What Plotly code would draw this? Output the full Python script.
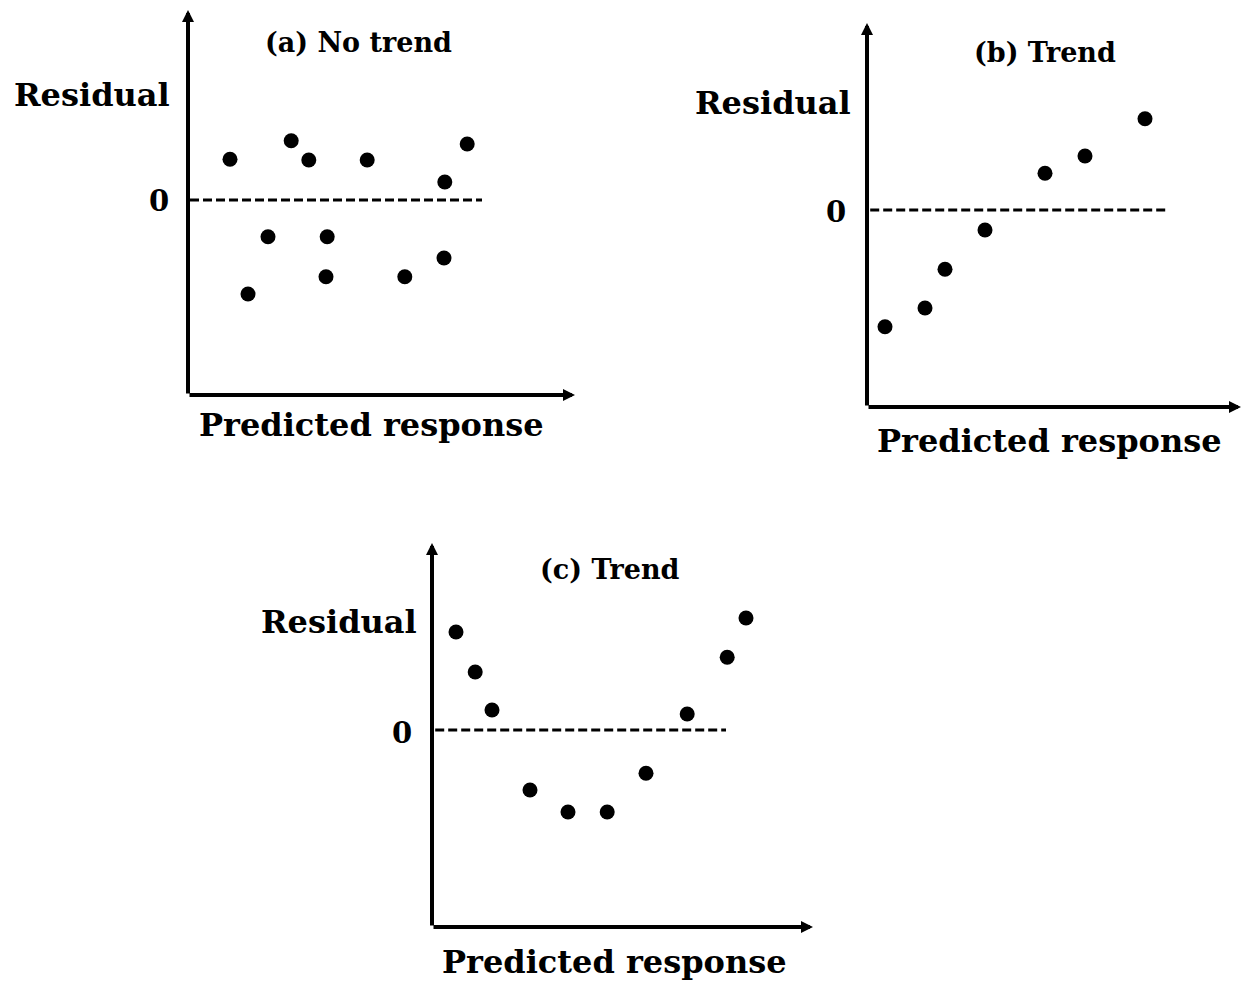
import plotly.graph_objects as go

W, H = 1244, 981

# ---------------- data ----------------
# Panel (a) No trend
a_pred = [1.05, 1.50, 2.00, 2.58, 3.02, 3.48, 3.45, 4.48, 5.42, 6.42, 6.40, 6.98]
a_resid = [1.02, -2.35, -0.92, 1.48, 1.00, -0.92, -1.92, 1.00, -1.92, 0.45, -1.45, 1.40]
# Panel (b) Trend (linear)
b_pred = [0.45, 1.45, 1.95, 2.95, 4.45, 5.45, 6.95]
b_resid = [-2.92, -2.45, -1.48, -0.50, 0.92, 1.35, 2.28]
# Panel (c) Trend (curved)
c_pred = [0.60, 1.08, 1.50, 2.45, 3.40, 4.38, 5.35, 6.38, 7.38, 7.85]
c_resid = [2.45, 1.45, 0.50, -1.50, -2.05, -2.05, -1.08, 0.40, 1.82, 2.80]

titles = ["(a) No trend", "(b) Trend", "(c) Trend"]
y_label = "Residual"
x_label = "Predicted response"
zero_label = "0"
# extent of dashed zero reference line in predicted-response units
zero_line_x = [[0.05, 7.35], [0.08, 7.48], [0.08, 7.35]]

series = [(a_pred, a_resid), (b_pred, b_resid), (c_pred, c_resid)]

# ---------------- layout geometry (pixels) ----------------
PX = 40.0  # pixels per data unit
panels = [
    dict(ox=188, top=10, bottom=395, right=575, zero=200,
         title=(358, 42), ylab=(92, 95), zlab=(159, 201), xlab=(371, 425)),
    dict(ox=867, top=23, bottom=407, right=1241, zero=210,
         title=(1045, 53), ylab=(773, 103), zlab=(836, 212), xlab=(1049, 441)),
    dict(ox=432, top=543, bottom=927, right=813, zero=730,
         title=(610, 569), ylab=(339, 622), zlab=(402, 733), xlab=(614, 962)),
]

FONT = "DejaVu Serif"
fig = go.Figure()
annotations = []
layout_axes = {}

for i, (p, (xs, ys)) in enumerate(zip(panels, series)):
    n = "" if i == 0 else str(i + 1)
    xr = [0, (p["right"] - p["ox"]) / PX]
    yr = [-(p["bottom"] - p["zero"]) / PX, (p["zero"] - p["top"]) / PX]
    layout_axes["xaxis" + n] = dict(domain=[p["ox"] / W, p["right"] / W], range=xr,
                                    visible=False, fixedrange=True, anchor="y" + n)
    layout_axes["yaxis" + n] = dict(domain=[1 - p["bottom"] / H, 1 - p["top"] / H], range=yr,
                                    visible=False, fixedrange=True, anchor="x" + n)
    # dashed zero line
    fig.add_trace(go.Scatter(x=zero_line_x[i], y=[0, 0], mode="lines",
                             line=dict(color="black", width=3, dash="9px,4px"),
                             xaxis="x" + n, yaxis="y" + n, showlegend=False, hoverinfo="skip"))
    # residual points
    fig.add_trace(go.Scatter(x=xs, y=ys, mode="markers",
                             marker=dict(color="black", size=15, line=dict(width=0)),
                             xaxis="x" + n, yaxis="y" + n, showlegend=False, cliponaxis=False))
    # axes as arrows
    common = dict(text="", showarrow=True, arrowhead=2, arrowsize=0.6, arrowwidth=4,
                  arrowcolor="black", xref="x" + n, yref="y" + n, axref="x" + n, ayref="y" + n,
                  standoff=0)
    annotations.append(dict(x=0, y=yr[1], ax=0, ay=yr[0], **common))
    annotations.append(dict(x=xr[1], y=yr[0], ax=0, ay=yr[0], **common))
    # texts
    def txt(s, pos, size):
        return dict(text="<b>" + s + "</b>", x=pos[0] / W, y=1 - pos[1] / H, xref="paper",
                    yref="paper", xanchor="center", yanchor="middle", showarrow=False,
                    font=dict(family=FONT, size=size, color="black"))
    annotations.append(txt(titles[i], p["title"], 27))
    annotations.append(txt(y_label, p["ylab"], 32))
    annotations.append(txt(zero_label, p["zlab"], 29))
    annotations.append(txt(x_label, p["xlab"], 32))

fig.update_layout(width=W, height=H, margin=dict(l=0, r=0, t=0, b=0),
                  paper_bgcolor="white", plot_bgcolor="white",
                  annotations=annotations, showlegend=False, **layout_axes)

fig.write_html("out.html")
